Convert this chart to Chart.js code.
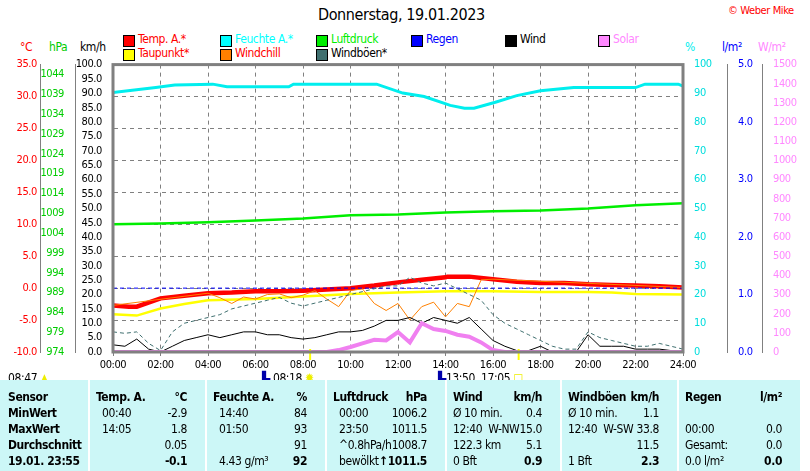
<!DOCTYPE html>
<html><head><meta charset="utf-8">
<script src="https://cdn.jsdelivr.net/npm/chart.js@4"></script>
<style>
body{margin:0;width:810px;height:471px;background:#fff;position:relative;overflow:hidden;font-family:"Liberation Sans Narrow","DejaVu Sans Condensed",Arial,sans-serif;font-size:12px;letter-spacing:-0.4px}
.t{position:absolute;white-space:nowrap}
.box{position:absolute;width:10px;height:10px;border:1px solid #000}
#wrap{position:absolute;left:0;top:55px;width:810px;height:320px}
#tbl{position:absolute;left:0;top:380px;width:800px;height:91px;background:#ccf7f7}
.col{position:absolute;top:0;height:91px;border-left:2px solid #fff}
</style></head><body>
<div class="t" style="left:318px;top:5px;font-size:16px">Donnerstag, 19.01.2023</div>
<div class="t" style="left:728px;top:4px;color:#f00;font-size:11px">© Weber Mike</div>
<div id="legend"></div>
<div class="t" style="left:20px;top:40px;color:#f00">°C</div>
<div class="t" style="left:49px;top:40px;color:#0c0">hPa</div>
<div class="t" style="left:80px;top:40px">km/h</div>
<div class="t" style="left:685px;top:40px;color:#0ee">%</div>
<div class="t" style="left:722px;top:40px;color:#00f">l/m²</div>
<div class="t" style="left:758px;top:40px;color:#f8f">W/m²</div>
<div id="wrap"><canvas id="c"></canvas></div>
<div class="t" style="left:8px;top:371px">08:47 <span style="color:#ee0">▲</span></div>
<div class="t" style="left:262px;top:371px"><span style="color:#00a">▙</span> 08:18 <span style="color:#ee0">✹</span></div>
<div class="t" style="left:438px;top:371px"><span style="color:#00a">▙</span>13:50 &nbsp;17:05 <span style="color:#ee0">□</span></div>
<div id="tbl"></div>
<script>
// hours of day
const hTemp = [0,0.67,1,2,3,4,5,6,7,8,9,10,11,12,13,14,14.08,15,16,17,18,19,20,21,22,23,24];
const temp  = [-2.7,-2.9,-2.9,-1.6,-1.2,-0.8,-0.7,-0.5,-0.5,-0.4,-0.2,0.0,0.4,0.9,1.3,1.7,1.8,1.8,1.4,1.0,0.8,0.8,0.6,0.5,0.4,0.3,0.1];
const hDew  = [0,1,2,3,4,6,8,10,12,14,16,18,20,21,22,24];
const dew   = [-4.1,-4.3,-3.2,-2.5,-1.9,-1.7,-1.3,-0.9,-0.7,-0.5,-0.5,-0.6,-0.6,-0.7,-0.9,-1.0];
const hHum  = [0,1.8,2.6,4.2,4.8,7.4,7.6,11.1,12.2,13.1,14.2,14.8,15.2,16.1,17,18,19.4,22,22.4,23.8,24];
const hum   = [90.3,92,92.9,93.2,92.3,92.3,93.2,93.2,90.1,88.9,85.8,84.8,84.8,86.9,89.2,90.9,92,92,93.2,93.2,92.5];
const hPres = [0,2,4,6,8,10,12,14,16,18,20,22,24];
const pres  = [1006.2,1006.4,1006.7,1007.2,1007.7,1008.5,1008.7,1009.2,1009.5,1009.7,1010.2,1011.0,1011.5];
const hHalf = [0,0.5,1,1.5,2,2.5,3,3.5,4,4.5,5,5.5,6,6.5,7,7.5,8,8.5,9,9.5,10,10.5,11,11.5,12,12.5,13,13.5,14,14.5,15,15.5,16,16.5,17,17.5,18,18.5,19,19.5,20,20.5,21,21.5,22,22.5,23,23.5,24];
const wind  = [2.5,2,4.5,1,0,2,4,5,6,5,6,7,7,6,6,5,4.5,5,6,7,7,7.5,9,11,11,12,10,12,11,10,12,8,4,2,0.5,0.5,2,0,0,0,6,2,2,2,1,1,1,0.5,0];
const gust  = [7,6.5,7,3,0.5,7,10,11,12,13,15,16,17,18,19,17,16,17,18,19,20,21,22,23,23,26,24,23,24,22,20,18,13,10,8,6,4,2,1,1,7,5,4,3,2,2,3,2,1];
const hChill= [0,4,4.5,5,5.5,6,6.5,7,7.5,8,8.5,9,9.5,10,10.5,11,11.5,12,12.5,13,13.5,14,14.5,15,15.5,16,24];
const chill = [-2.7,-0.8,-1.5,-2.4,-1.4,-1.7,-1.0,-0.9,-1.5,-1.1,-0.4,-1.7,-2.9,-0.4,-0.1,-2.4,-3.5,-2.4,-5.0,-2.9,-2.2,-4.5,-2.4,-2.9,1.3,1.4,0.1];
const hSolar= [0,9,9.5,10,10.5,11,11.5,12,12.5,13,13.5,14,14.5,15,15.5,16,16.5,17,24];
const solar = [0,0,10,26,45,64,60,104,50,150,120,110,90,80,50,10,0,0,0];
const hRain = [0,24];
const rain  = [0,0];
const zeroLine = [0,0];
const sunMarks = [8.3,17.08];
const hourTicks = ['00:00','02:00','04:00','06:00','08:00','10:00','12:00','14:00','16:00','18:00','20:00','22:00','24:00'];
const hpaTicks = [974,979,984,989,994,999,1004,1009,1014,1019,1024,1029,1034,1039,1044];

Chart.defaults.font.family = '"Liberation Sans Narrow","DejaVu Sans Condensed",Arial,sans-serif';

const legendItems = [
  ['Temp. A.*','#f00','#f00',123,34],['Feuchte A.*','#0ff','#0ff',220,34],['Luftdruck','#0e0','#0e0',316,34],
  ['Regen','#00f','#00f',411,34],['Wind','#000','#000',505,34],['Solar','#f8f','#f8f',598,34],
  ['Taupunkt*','#ff0','#f00',123,48],['Windchill','#ff8000','#f00',220,48],['Windböen*','#407070','#000',316,48]
];
let lg = '';
legendItems.forEach(function(it) {
  lg += '<div class="box" style="left:' + it[3] + 'px;top:' + (it[4]+1) + 'px;background:' + it[1] + '"></div>';
  lg += '<div class="t" style="left:' + (it[3]+15) + 'px;top:' + (it[4]-2) + 'px;color:' + it[2] + '">' + it[0] + '</div>';
});
document.getElementById('legend').innerHTML = lg;

// table
const colX = [0,88,205,325,445,560,677,800];
const tableRows = [
  ['Sensor','Temp. A.','°C','Feuchte A.','%','Luftdruck','hPa','Wind','km/h','Windböen','km/h','Regen','l/m²'],
  ['MinWert','00:40','-2.9','14:40','84','00:00','1006.2','Ø 10 min.','0.4','Ø 10 min.','1.1','',''],
  ['MaxWert','14:05','1.8','01:50','93','23:50','1011.5','12:40 &nbsp;W-NW','15.0','12:40 &nbsp;W-SW','33.8','00:00','0.0'],
  ['Durchschnitt','','0.05','','91','^0.8hPa/h','1008.7','122.3 km','5.1','','11.5','Gesamt:','0.0'],
  ['19.01. 23:55','','-0.1','4.43 g/m³','92','bewölkt','↑1011.5','0 Bft','0.9','1 Bft','2.3','0.0 l/m²','0.0']
];
const rowY = [10,26,42,58,74];
let tb = '';
for (let c = 1; c < 7; c++) tb += '<div class="col" style="left:' + colX[c] + 'px"></div>';
tableRows.forEach(function(row, i) {
  tb += '<div class="t" style="left:8px;top:' + rowY[i] + 'px;font-weight:bold">' + row[0] + '</div>';
  for (let c = 0; c < 6; c++) {
    const l = row[1 + c*2], r = row[2 + c*2];
    const lb = (i === 0) ? 'font-weight:bold;' : '';
    const rb = (i === 0 || i === 4) ? 'font-weight:bold;' : '';
    tb += '<div class="t" style="' + lb + 'left:' + (colX[c+1] + (i === 0 || c >= 3 ? 8 : 14)) + 'px;top:' + rowY[i] + 'px">' + l + '</div>';
    tb += '<div class="t" style="' + rb + 'right:' + (810 - colX[c+2] + 8) + 'px;top:' + rowY[i] + 'px">' + r + '</div>';
  }
});
document.getElementById('tbl').innerHTML = tb;

function pts(xs, ys) { return xs.map(function(x, i) { return {x: x, y: ys[i]}; }); }
function fixW(w) { return function(s) { s.width = w; }; }

const sunPlugin = {
  id: 'sun',
  afterDraw: function(chart) {
    const ctx = chart.ctx, xs = chart.scales.x, b = chart.chartArea.bottom;
    ctx.save();
    ctx.strokeStyle = '#ff0'; ctx.lineWidth = 2;
    sunMarks.forEach(function(h) {
      const px = xs.getPixelForValue(h);
      ctx.beginPath(); ctx.moveTo(px, b - 3); ctx.lineTo(px, b + 8); ctx.stroke();
    });
    ctx.strokeStyle = '#808080'; ctx.lineWidth = 3;
    const a = chart.chartArea;
    ctx.strokeRect(a.left, a.top, a.right - a.left, a.bottom - a.top);
    ctx.restore();
  }
};

const line = function(label, data, axis, color, width, extra) {
  return Object.assign({label: label, data: data, yAxisID: axis, borderColor: color, borderWidth: width,
    pointRadius: 0, tension: 0, fill: false}, extra || {});
};
const num = function(d) { return function(v) { return Number(v).toFixed(d); }; };

new Chart(document.getElementById('c'), {
  type: 'line',
  data: {
    datasets: [
      line('Solar', pts(hSolar, solar), 'ySol', '#f080f0', 4),
      line('Windböen', pts(hHalf, gust), 'yKmh', '#407070', 1, {borderDash: [4, 3]}),
      line('Wind', pts(hHalf, wind), 'yKmh', '#000', 1),
      line('Regen', pts(hRain, rain), 'yRain', '#00f', 2, {borderDash: [2, 2]}),
      line('Null', pts(hRain, zeroLine), 'yTemp', '#00f', 1, {borderDash: [4, 3]}),
      line('Windchill', pts(hChill, chill), 'yTemp', '#ff8000', 1),
      line('Taupunkt', pts(hDew, dew), 'yTemp', '#ff0', 2.5),
      line('Temp', pts(hTemp, temp), 'yTemp', '#f00', 4.5),
      line('Luftdruck', pts(hPres, pres), 'yHpa', '#00ee00', 2.5),
      line('Feuchte', pts(hHum, hum), 'yHum', '#00eeee', 3)
    ]
  },
  options: {
    responsive: true, maintainAspectRatio: false, animation: false,
    layout: {padding: {top: 7, right: 10, left: 0, bottom: 0}},
    plugins: {legend: {display: false}, tooltip: {enabled: false}},
    scales: {
      x: {type: 'linear', min: 0, max: 24, afterFit: function(s) { s.height = 23; },
        ticks: {stepSize: 2, color: '#000', font: {size: 11}, maxRotation: 0, callback: function(v, i) { return hourTicks[i]; }},
        grid: {color: '#808080', tickLength: 4, drawTicks: true}, border: {display: false, dash: [4, 4]}},
      yKmh: {position: 'left', weight: 0, min: 0, max: 100, afterFit: fixW(38),
        ticks: {stepSize: 5, autoSkip: false, color: '#000', font: {size: 11}, callback: num(1)},
        grid: {display: false}, border: {color: '#808080', width: 2}},
      yHpa: {position: 'left', weight: 1, min: 974, max: 1046.5, afterFit: fixW(35),
        afterBuildTicks: function(s) { s.ticks = hpaTicks.map(function(v) { return {value: v}; }); },
        ticks: {autoSkip: false, color: '#00cc00', font: {size: 11}, callback: num(0)},
        grid: {display: false}, border: {color: '#808080'}},
      yTemp: {position: 'left', weight: 2, min: -10, max: 35, afterFit: fixW(40),
        ticks: {stepSize: 5, color: '#f00', font: {size: 11}, callback: num(1)},
        grid: {color: '#808080', drawOnChartArea: true, drawTicks: false}, border: {color: '#808080', dash: [4, 4]}},
      yHum: {position: 'right', weight: 0, min: 0, max: 100, afterFit: fixW(44),
        ticks: {stepSize: 10, color: '#0dd', font: {size: 11}}, grid: {display: false}, border: {color: '#808080'}},
      yRain: {position: 'right', weight: 1, min: 0, max: 5, afterFit: fixW(35),
        ticks: {stepSize: 1, color: '#00f', font: {size: 11}, callback: num(1)},
        grid: {display: false}, border: {color: '#808080'}},
      ySol: {position: 'right', weight: 2, min: 0, max: 1500, afterFit: fixW(38),
        ticks: {stepSize: 100, autoSkip: false, color: '#f8f', font: {size: 11}, callback: num(0)}, grid: {display: false}, border: {color: '#808080'}}
    }
  },
  plugins: [sunPlugin]
});
</script>
</body></html>
